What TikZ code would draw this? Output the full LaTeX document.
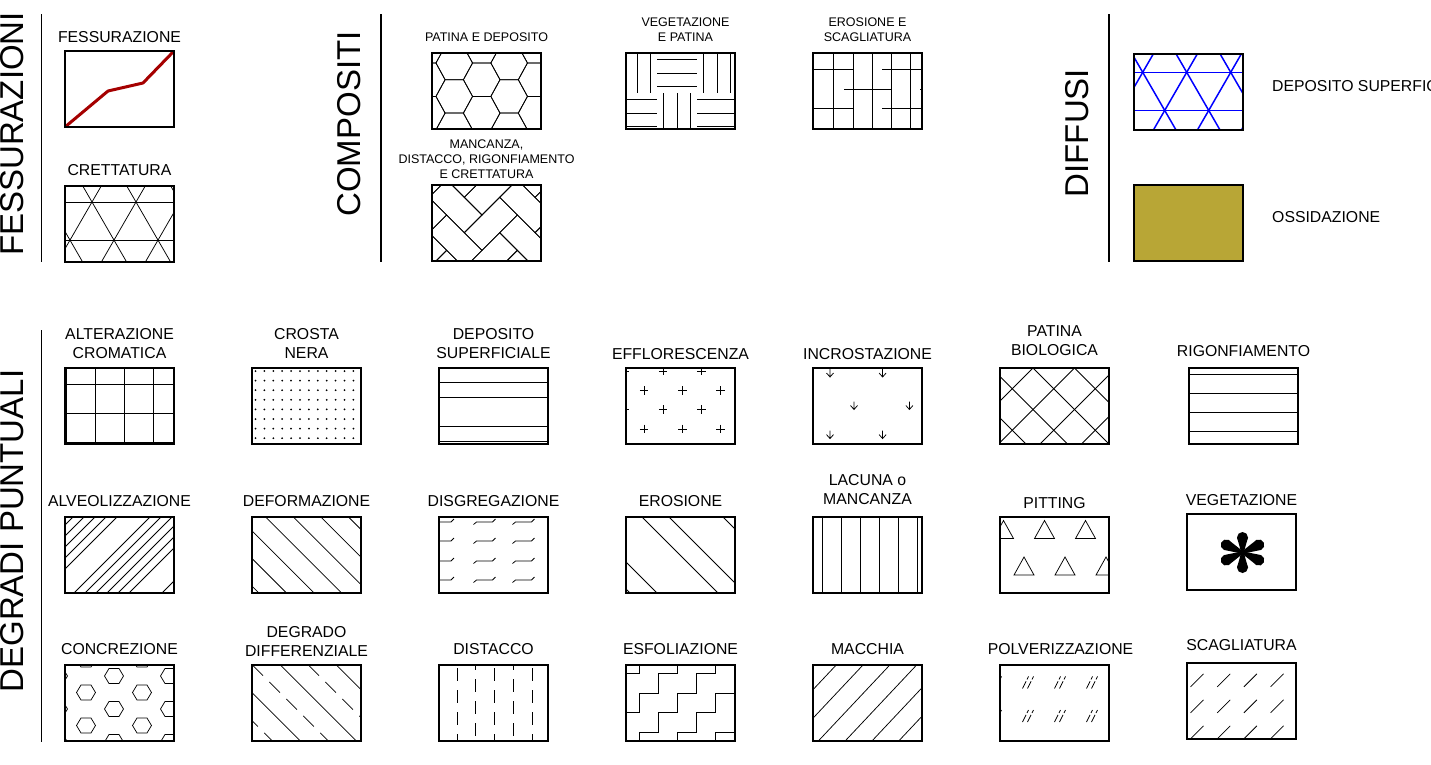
\documentclass[tikz,border=0pt]{standalone}
\usepackage{fontspec}
\setmainfont{Liberation Sans}
\usetikzlibrary{positioning}

\definecolor{crackred}{RGB}{165,0,0}
\definecolor{depblue}{RGB}{0,0,255}
\definecolor{oxide}{RGB}{184,166,54}

% triangular grid through the crossing point (#1,#2)
\newcommand\trigrid[2]{%
  \foreach \k in {-3,...,4} {
    \draw (#1+44*\k-50,#2-86.6) -- (#1+44*\k+50,#2+86.6);
    \draw (#1+44*\k+50,#2-86.6) -- (#1+44*\k-50,#2+86.6);
  }
  \foreach \j in {-1,...,2}
    \draw (-5,#2+38.1*\j) -- (115,#2+38.1*\j);
}

% hatched legend box: name, x, y, pic
\newcommand\swatchat[4]{%
  \begin{scope}[shift={(#2,#3)}, hatch]
    \clip (0,0) rectangle (109,76);
    \pic {#4};
  \end{scope}
  \node[swatch] (#1) at (#2,#3) {};
}

\tikzset{
  swatch/.style={draw, line width=1.4pt, minimum width=109pt, minimum height=76pt,
    inner sep=0pt, outer sep=0pt, anchor=north west},
  hatch/.style={line width=0.75pt},
  legtext/.style={font=\fontsize{15.8}{19}\selectfont, align=center, inner sep=0pt},
  smalltext/.style={legtext, font=\fontsize{12.5}{15}\selectfont},
  bigtitle/.style={font=\fontsize{33}{40}\selectfont, rotate=90, inner sep=0pt},
  divider/.style={line width=1.3pt},
  % top groups
  pics/fess/.style={code={\draw[crackred, line width=3pt, line join=round]
    (0,76) -- (43,40) -- (78,32) -- (109,0);}},
  pics/crett/.style={code={\trigrid{27}{16}}},
  pics/patdep/.style={code={
    \foreach \i in {-1,...,4} \foreach \j in {-1,...,2} {
      \pgfmathsetmacro\cx{22.25+27.45*\i}
      \pgfmathsetmacro\cy{10+33.4*\j+16.7*mod(\i+2,2)}
      \draw (\cx+18.3,\cy) -- ++(-9.15,-16.7) -- ++(-18.3,0) -- ++(-9.15,16.7)
        -- ++(9.15,16.7) -- ++(18.3,0) -- cycle;
    }}},
  pics/vegpat/.style={code={
    \foreach \bx/\by in {-9/0,71/0,31/40} \foreach \off in {6.7,20,33.3}
      \draw (\bx+\off,\by) -- ++(0,40);
    \foreach \bx/\by in {31/0,-9/40,71/40} \foreach \off in {6.7,20,33.3}
      \draw (\bx,\by+\off) -- ++(40,0);
    }},
  pics/erosc/.style={code={
    \foreach \k in {1,...,5} \draw (1.5+19.2*\k,0) -- ++(0,76);
    \foreach \y/\s in {16.5/-7,55.5/-7,36/31,75/31} \foreach \n in {0,1}
      \draw (\s+76*\n,\y) -- ++(47,0);
    }},
  pics/mancan/.style={code={
    \begin{scope}[shift={(50,30)}, rotate=45, x=25pt, y=25pt]
      \foreach \k in {-5,...,5} \foreach \m in {-3,...,3} {
        \draw (\k+2*\m,\k-2*\m) rectangle ++(2,1);
        \draw (\k+2*\m,\k-2*\m+1) rectangle ++(1,2);
      }
    \end{scope}}},
  pics/depdiff/.style={code={\begin{scope}[depblue, line width=1.5pt]\trigrid{8.7}{18.3}\end{scope}}},
  % degradi puntuali
  pics/altcrom/.style={code={
    \foreach \x in {1.5,30.5,59.5,88.5} \draw (\x,0) -- (\x,76);
    \foreach \y in {16,45,74} \draw (0,\y) -- (109,\y);}},
  pics/crosta/.style={code={
    \foreach \i in {0,...,12} \foreach \j in {0,...,7}
      \fill (3.5+8.9*\i,3+9.6*\j) circle[radius=1pt];}},
  pics/deposup/.style={code={
    \foreach \y in {14.5,29.7,58.4,73.6} \draw (0,\y) -- (109,\y);}},
  pics/efflor/.style={code={
    \foreach \y/\s in {3/37,22.3/18,41.6/37,60.9/18,80.2/37} \foreach \k in {-1,...,2}
      \draw (\s+38.3*\k-4.2,\y) -- ++(8.4,0) (\s+38.3*\k,\y-4.2) -- ++(0,8.4);}},
  pics/incrost/.style={code={
    \foreach \x/\y in {17/5,69.6/5,41/37.5,96.4/37.5,17/66.6,69.6/66.6}
      \draw (\x,\y-4) -- (\x,\y+4) (\x-3.5,\y) -- (\x,\y+4) -- (\x+3.5,\y);}},
  pics/patbio/.style={code={
    \foreach \k in {-2,...,3}
      \draw (33+41.5*\k,0) -- ++(90,90) (33+41.5*\k,0) -- ++(-90,90);}},
  pics/rigonf/.style={code={
    \foreach \y in {6.7,25.7,44.7,63.7} \draw (0,\y) -- (109,\y);}},
  pics/alveol/.style={code={
    \foreach \n in {0,1,2} \foreach \i in {0,...,5}
      \draw (-3+88*\n+11*\i,0) -- ++(-80,80);}},
  pics/deform/.style={code={
    \foreach \k in {-3,...,3} \draw (13.7+27.6*\k,0) -- ++(80,80);}},
  pics/disgreg/.style={code={
    \foreach \x in {4,45.5,84.5} \foreach \y in {5,24,44,63}
      \draw (\x-11,\y+2.5) -- (\x-8,\y) -- (\x+8,\y) -- (\x+11,\y-3);}},
  pics/erosion/.style={code={
    \foreach \cc in {-72,-45,16,43,97} \draw (\cc,0) -- ++(80,80);}},
  pics/lacuna/.style={code={
    \foreach \k in {0,...,5} \draw (9.5+19*\k,0) -- ++(0,76);}},
  pics/pitting/.style={code={
    \foreach \x/\y in {3.5/3.5,44.5/3.5,85.5/3.5,24/40,65/40,106/40}
      \draw (\x,\y) -- (\x+10,\y+18) -- (\x-10,\y+18) -- cycle;}},
  pics/veget/.style={code={
    \foreach \ang/\len in {90/15,270/15,25/18,-25/18,155/18,205/18} {
      \fill[shift={(55.5,38.5)}, rotate=\ang] (0,-1.2) -- (\len,-5.5) -- (\len,5.5) -- (0,1.2) -- cycle;
      \fill[shift={(55.5,38.5)}, rotate=\ang] (\len,0) circle[radius=5.5pt];
    }}},
  pics/concrez/.style={code={
    \foreach \y/\s in {-5.5/21,11/-7,27.5/21,44/-7,60.5/21,77/-7} \foreach \k in {0,1,2}
      \draw[shift={(\s+56*\k,\y)}] (-9.5,0) -- (-5,-7.5) -- (5,-7.5) -- (9.5,0)
        -- (5,7.5) -- (-5,7.5) -- cycle;}},
  pics/degdiff/.style={code={
    \foreach \cc in {-83.6,-27.6,28.4,84.4} \draw (\cc,0) -- ++(80,80);
    \foreach \cc in {-55.6,0.4,56.4} \draw[dash pattern=on 15pt off 9pt] (\cc,0) -- ++(80,80);}},
  pics/distac/.style={code={
    \foreach \x in {18,55.5,93} \draw[dash pattern=on 13pt off 9pt] (\x,3) -- (\x,80);
    \foreach \x in {36.75,74.25} \draw[dash pattern=on 13pt off 9pt] (\x,-8) -- (\x,80);}},
  pics/esfol/.style={code={
    \foreach \k in {-1,...,4}
      \draw (-81.8+38*\k,125.6) \foreach \i in {1,...,10} { -- ++(19,0) -- ++(0,-19.5) };}},
  pics/macchia/.style={code={
    \foreach \k in {0,...,6} \draw (23.2+26.8*\k,0) -- ++(-71.5,76);}},
  pics/polver/.style={code={
    \foreach \x in {-4.5,27.5,59.5,91.5} \foreach \y in {17.4,51}
      \draw[dash pattern=on 8pt off 2pt] (\x-5,\y+6) -- ++(6,-12) (\x,\y+6) -- ++(6,-12);}},
  pics/scagl/.style={code={
    \foreach \i in {0,...,3} \foreach \j in {0,1,2}
      \draw (3.5+26.7*\i,23.8+26*\j) -- ++(13,-13);}},
}

\begin{document}
\begin{tikzpicture}[x=1pt, y=-1pt]
  \useasboundingbox (0,0) rectangle (1431,764);

  % group titles and dividers
  \node[bigtitle] (fess-t) at (12.5,134) {FESSURAZIONI};
  \node[bigtitle] (comp-t) at (349.5,124) {COMPOSITI};
  \node[bigtitle] (diff-t) at (1077,133) {DIFFUSI};
  \node[bigtitle] (degr-t) at (12.5,531) {DEGRADI PUNTUALI};
  \draw[divider] (41.7,14) -- (41.7,261.7);
  \draw[divider] (381,14) -- (381,261.7);
  \draw[divider] (1109,14) -- (1109,261.7);
  \draw[divider] (41.7,330) -- (41.7,742);

  % fessurazioni
  \swatchat{fess}{65}{51}{fess}
  \swatchat{crett}{65}{186}{crett}
  \node[legtext, above=8pt of fess] (fess-l) {FESSURAZIONE};
  \node[legtext, above=10pt of crett] (crett-l) {CRETTATURA};

  % compositi
  \swatchat{patdep}{432}{53}{patdep}
  \swatchat{vegpat}{626}{53}{vegpat}
  \swatchat{erosc}{813}{53}{erosc}
  \swatchat{mancan}{432}{185}{mancan}
  \node[smalltext, above=11pt of patdep] (patdep-l) {PATINA E DEPOSITO};
  \node[smalltext, above=11pt of vegpat, xshift=5pt] (vegpat-l) {VEGETAZIONE\\E PATINA};
  \node[smalltext, above=11pt of erosc] (erosc-l) {EROSIONE E\\SCAGLIATURA};
  \node[smalltext, above=6.5pt of mancan] (mancan-l) {MANCANZA,\\DISTACCO, RIGONFIAMENTO\\E CRETTATURA};

  % diffusi
  \swatchat{depdiff}{1134}{54}{depdiff}
  \node[swatch, fill=oxide] (ossid) at (1134,185) {};
  \node[legtext, anchor=base west] (depdiff-l) at (1272,91.7) {DEPOSITO SUPERFICIALE};
  \node[legtext, anchor=base west] (ossid-l) at (1272,222.7) {OSSIDAZIONE};

  % degradi puntuali, first row
  \swatchat{altcrom}{65}{368}{altcrom}
  \swatchat{crosta}{252}{368}{crosta}
  \swatchat{deposup}{439}{368}{deposup}
  \swatchat{efflor}{626}{368}{efflor}
  \swatchat{incrost}{813}{368}{incrost}
  \swatchat{patbio}{1000}{368}{patbio}
  \swatchat{rigonf}{1189}{368}{rigonf}
  \node[legtext, above=9pt of altcrom] (altcrom-l) {ALTERAZIONE\\CROMATICA};
  \node[legtext, above=9pt of crosta] (crosta-l) {CROSTA\\NERA};
  \node[legtext, above=9pt of deposup] (deposup-l) {DEPOSITO\\SUPERFICIALE};
  \node[legtext, above=8pt of efflor] (efflor-l) {EFFLORESCENZA};
  \node[legtext, above=8pt of incrost] (incrost-l) {INCROSTAZIONE};
  \node[legtext, above=12pt of patbio] (patbio-l) {PATINA\\BIOLOGICA};
  \node[legtext, above=11pt of rigonf] (rigonf-l) {RIGONFIAMENTO};

  % second row
  \swatchat{alveol}{65}{517}{alveol}
  \swatchat{deform}{252}{517}{deform}
  \swatchat{disgreg}{439}{517}{disgreg}
  \swatchat{erosion}{626}{517}{erosion}
  \swatchat{lacuna}{813}{517}{lacuna}
  \swatchat{pitting}{1000}{517}{pitting}
  \swatchat{veget}{1187}{514}{veget}
  \node[legtext, above=10pt of alveol] (alveol-l) {ALVEOLIZZAZIONE};
  \node[legtext, above=10pt of deform] (deform-l) {DEFORMAZIONE};
  \node[legtext, above=10pt of disgreg] (disgreg-l) {DISGREGAZIONE};
  \node[legtext, above=10pt of erosion] (erosion-l) {EROSIONE};
  \node[legtext, above=12pt of lacuna] (lacuna-l) {LACUNA o\\MANCANZA};
  \node[legtext, above=8pt of pitting] (pitting-l) {PITTING};
  \node[legtext, above=8pt of veget] (veget-l) {VEGETAZIONE};

  % third row
  \swatchat{concrez}{65}{665}{concrez}
  \swatchat{degdiff}{252}{665}{degdiff}
  \swatchat{distac}{439}{665}{distac}
  \swatchat{esfol}{626}{665}{esfol}
  \swatchat{macchia}{813}{665}{macchia}
  \swatchat{polver}{1000}{665}{polver}
  \swatchat{scagl}{1187}{663}{scagl}
  \node[legtext, above=10.5pt of concrez] (concrez-l) {CONCREZIONE};
  \node[legtext, above=8pt of degdiff] (degdiff-l) {DEGRADO\\DIFFERENZIALE};
  \node[legtext, above=10.5pt of distac] (distac-l) {DISTACCO};
  \node[legtext, above=10.5pt of esfol] (esfol-l) {ESFOLIAZIONE};
  \node[legtext, above=10.5pt of macchia] (macchia-l) {MACCHIA};
  \node[legtext, above=10.5pt of polver, xshift=6pt] (polver-l) {POLVERIZZAZIONE};
  \node[legtext, above=12pt of scagl] (scagl-l) {SCAGLIATURA};
\end{tikzpicture}
\end{document}
